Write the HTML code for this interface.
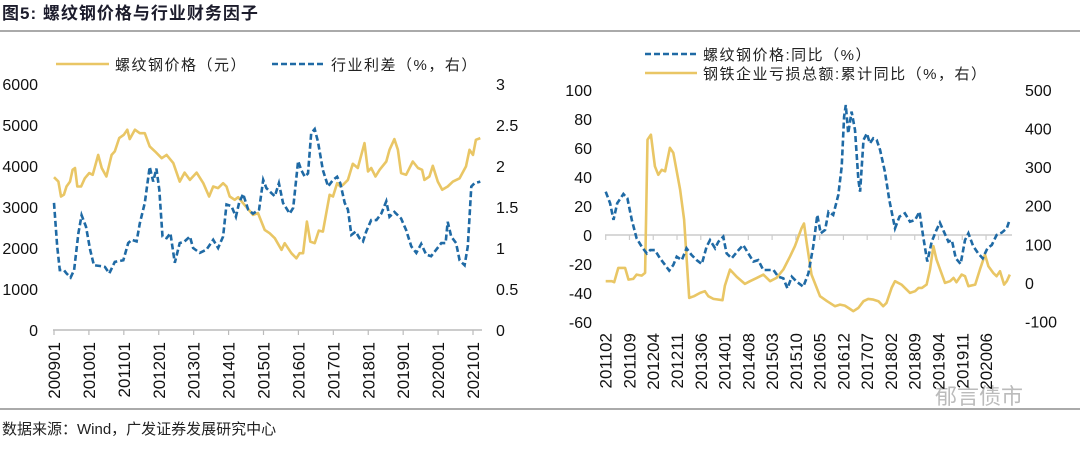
<!DOCTYPE html>
<html><head><meta charset="utf-8">
<style>
html,body{margin:0;padding:0;background:#fff;}
body{width:1080px;height:446px;overflow:hidden;font-family:"Liberation Sans","Noto Sans CJK SC",sans-serif;}
svg text{font-family:"Liberation Sans","Noto Sans CJK SC",sans-serif;}
</style></head>
<body>
<svg id="svg" width="1080" height="446" viewBox="0 0 1080 446">
<text x="2" y="19" font-size="17" font-weight="bold" fill="#1c1c2c" letter-spacing="1">图5:  螺纹钢价格与行业财务因子</text>
<line x1="0" y1="31" x2="1080" y2="31" stroke="#777" stroke-width="1.2"/>
<line x1="0" y1="409" x2="1080" y2="409" stroke="#777" stroke-width="1.2"/>
<text x="2" y="434" font-size="15" fill="#222">数据来源：Wind，广发证券发展研究中心</text>
<text x="935" y="404" font-size="22" fill="#bbb">郁言债市</text>
<g id="left"></g>
<g id="right"></g>
</svg>
<script>
// Left chart data (month index from 200901)
const lMonths=[0,1.5,2.4,3.4,4.3,5.5,6.4,7.2,8,9.3,10.6,12.1,13.3,15.2,16.4,18,19.8,20.9,22.4,24,25.2,26,27.8,29.5,31.2,32.9,34.7,37,38.7,41,43.2,44.9,46.7,49,51.3,53.3,54.7,56.4,58.1,59.3,60.4,62.1,63.3,65,68.4,70.1,72.4,74.1,75.9,78.2,79.3,81.6,83.3,84.4,85.6,86.9,88.1,89.6,91,92.4,94.7,95.9,97.3,98.4,99.3,101,102.7,104.4,105.6,106.7,107.9,109,110.5,111.9,114.2,115.3,117,118.2,119.3,121,123.3,125.1,126.5,127.3,129,130.2,131.9,133.4,135.3,137.1,139.4,141.6,142.8,144,145,146.5];
const rebarPrice=[3728,3620,3256,3300,3500,3620,3907,3950,3500,3500,3700,3826,3785,4270,3950,3745,4270,4355,4680,4760,4885,4655,4885,4800,4800,4477,4355,4190,4270,4070,3620,3840,3660,3840,3580,3256,3500,3460,3580,3500,3256,3175,3240,3093,2808,2850,2442,2360,2240,1954,2116,1872,1750,1872,1872,2645,2157,2116,2425,2400,3297,3256,3580,3500,3540,3660,4053,3950,4270,4558,3866,3950,3745,3907,4110,4395,4655,4395,3826,3785,4110,3950,3907,3660,3745,4005,3620,3420,3500,3620,3700,3990,4395,4270,4640,4680];
const spreadMonths=[0,1.1,2,3.4,4.3,5.7,6.9,8.4,9.5,11,12.4,13.7,15.8,17.5,19,20.9,23.8,25.5,26.7,28.4,29.5,31.2,32.9,34.1,35.2,36.2,37.3,38.7,40,41.5,43.2,44.9,46.7,47.8,50.1,52.4,54.7,56.4,58.1,59.3,61,62.5,63.6,65,66.7,68.4,70.5,71.9,73,74.7,75.9,77.3,78.7,81,82.2,83.9,85,86.2,87.3,88.4,89.6,90.7,92.4,94.2,95.9,97.3,98.4,99.9,101,102.2,103.7,105,106.2,107.3,109,110.8,112.5,114.2,115.3,117,119.3,121,122.8,124.5,126.2,127.9,129.6,131.4,133.1,134.6,135.3,136.5,138.2,139.4,141.1,142.2,143.4,144.5,146.5];
const spread=[1.55,1.02,0.73,0.73,0.69,0.64,0.73,1.18,1.40,1.26,0.98,0.79,0.78,0.77,0.69,0.83,0.85,1.06,1.10,1.08,1.30,1.55,1.99,1.81,1.97,1.71,1.14,1.12,1.18,0.82,1.06,1.08,1.14,1.00,0.94,0.98,1.10,1.00,1.14,1.53,1.51,1.38,1.55,1.66,1.47,1.42,1.47,1.83,1.73,1.67,1.63,1.79,1.55,1.42,1.49,2.06,1.95,1.87,1.91,2.40,2.45,2.30,1.95,1.75,1.83,1.87,1.79,1.55,1.47,1.16,1.20,1.12,1.08,1.20,1.34,1.34,1.42,1.57,1.38,1.44,1.36,1.22,1.02,0.94,1.05,0.92,0.90,0.98,1.06,1.06,1.32,1.14,1.06,0.85,0.79,1.02,1.75,1.79,1.81];
const lTicksL=[0,1000,2000,3000,4000,5000,6000];
const lTicksR=["0","0.5","1","1.5","2","2.5","3"];
const lXLabels=["200901","201001","201101","201201","201301","201401","201501","201601","201701","201801","201901","202001","202101"];
// Right chart data (month index from 201102)
const rMonthsB=[0,1.3,2.3,3.4,5.2,6.4,7.7,9.1,10.6,12.1,13.1,14.5,16,17.5,18.7,19.9,20.9,22.4,23.8,25.3,26.8,28.3,29.7,30.7,32.2,33.2,34.6,35.6,37.1,39.1,40.5,42,43.5,44.9,46.4,47.9,49.4,50.8,52.3,53.5,54.8,56.2,58.2,59.7,61.1,62.3,63.3,64.6,65.6,67,68.5,69.5,70.2,70.7,71.4,72.4,73.4,74.4,74.9,75.9,76.9,77.8,78.8,79.8,80.8,82.2,83.5,85.2,86.5,88.1,89.6,91.1,92.4,93.5,94.7,96,97.4,98.4,99.6,100.9,101.9,103.1,104.5,105.8,106.8,108.2,109.7,111,112.4,113.7,115.1,116.6,118.1,119];
const rebarYoY=[29.9,21.9,10.4,21.9,28.3,25.3,10.4,-2.3,-8.1,-12.7,-10.4,-10.4,-16.1,-20.7,-24.6,-20.7,-15,-17.3,-9.2,-13.8,-17.3,-20,-8.1,-3.5,-9.2,-4.6,-1.2,-12.7,-16.1,-10.4,-6.9,-12.7,-18.4,-17.3,-24.2,-24.2,-24.2,-28.8,-29.9,-36.8,-28.8,-32.2,-35.7,-26.5,-8.1,13.8,1.2,3.5,16.1,13.8,27.6,47.2,81.7,89.8,70.2,85.2,72.5,38,29.9,65.6,70.2,63.3,66.8,65.6,58.7,43.7,24.2,4.6,12.7,15,9.2,10.4,16.1,-1.2,-18.4,-4.6,3.5,8.5,2.3,-4.6,-3.5,-16.1,-20,-3.5,1.2,-7.6,-12.7,-16.1,-9.2,-6.9,0,1.6,4.6,10.8];
const rMonthsY=[0,1.8,2.5,3.7,5.2,5.7,6.7,8.1,9.1,10.6,11.6,12.3,13.3,14.5,15.5,16.5,17.5,18.9,19.9,21.9,23.1,24.6,26,27.8,29.2,30.2,31.7,34.4,35.1,36.6,38.6,41,42.5,44.5,46.4,48.4,50.3,52.3,54.3,55.7,57.7,58.4,59.2,60.6,63.1,65.2,67.5,69,70.4,71.9,72.9,74.4,75.9,77.3,78.8,80.3,81.7,82.7,84.2,85.2,87.1,89.6,91.1,92.1,93.1,94.5,95.5,96.5,97.4,99.9,101.4,102.4,103.3,104.8,105.8,106.8,108.8,110.2,111.7,112.7,114.1,115.1,116.1,117.3,118.1,119];
const lossYoY=[4.3,4.3,1.7,38.8,38.8,38.8,8.6,10.4,21.6,19,25.9,371,384,302,280,293,289,350,337,242,164,-38.8,-34.5,-25.9,-21.6,-34.5,-41.4,-44.9,-6.9,34.5,15.5,-2.6,4.3,12.9,21.6,4.3,12.9,34.5,69,95,142,154,103.6,21.6,-34.5,-47.5,-60.4,-56.1,-58.7,-67.3,-73.4,-64.7,-47.5,-41.4,-43.2,-47.5,-60.4,-51.8,-12.9,4.3,-4.3,-25.9,-21.6,-12.9,-12.9,-4.3,34.5,95,60.4,0,4.3,12.9,1.7,21.6,17.3,-8.6,-4.3,34.5,73.4,43.2,25.9,17.3,30.2,-4.3,4.3,21.6];
const rTicksL=[-60,-40,-20,0,20,40,60,80,100];
const rTicksR=[-100,0,100,200,300,400,500];
const rXLabels=["201102","201109","201204","201211","201306","201401","201408","201503","201510","201605","201612","201707","201802","201809","201904","201911","202006"];

const NS="http://www.w3.org/2000/svg";
function mk(parent,tag,attrs,txt){const e=document.createElementNS(NS,tag);for(const k in attrs)e.setAttribute(k,attrs[k]);if(txt!==undefined)e.textContent=txt;parent.appendChild(e);return e;}
function pathD(xs,ys,fx,fy){return xs.map((m,i)=>(i?'L':'M')+fx(m).toFixed(1)+','+fy(ys[i]).toFixed(1)).join('');}
const YEL="#e9c665",BLU="#1f6aa5";

// LEFT
const L=document.getElementById('left');
const lx=m=>54+m*(419/144);
const lyL=v=>330-v*(246/6000);
const lyR=v=>330-v*(246/3);
let ax=mk(L,'line',{x1:53,y1:330,x2:482,y2:330,stroke:'#bbb','stroke-width':1.5});

lTicksL.forEach(v=>{const t=mk(L,'text',{x:38,y:lyL(v)+6,'font-size':16,'text-anchor':'end',fill:'#111'},String(v));
});
lTicksR.forEach((s,i)=>{const t=mk(L,'text',{x:496,y:lyR(i*0.5)+6,'font-size':16,fill:'#111'},s);
});
lXLabels.forEach((s,i)=>{const x=lx(i*12);const tk=mk(L,'line',{x1:x,y1:330,x2:x,y2:335,stroke:'#bbb','stroke-width':1.2});

const t=mk(L,'text',{x:0,y:0,'font-size':17,'text-anchor':'end',fill:'#111',transform:`translate(${x+6},342) rotate(-90)`},s);
});
let p1=mk(L,'path',{d:pathD(lMonths,rebarPrice,lx,lyL),fill:'none',stroke:YEL,'stroke-width':2.6,'stroke-linejoin':'round'});

let p2=mk(L,'path',{d:pathD(spreadMonths,spread,lx,lyR),fill:'none',stroke:BLU,'stroke-width':2.6,'stroke-dasharray':'6,3'});

let g1=mk(L,'g',{});
mk(g1,'line',{x1:56,y1:64,x2:109,y2:64,stroke:YEL,'stroke-width':2.6});
mk(g1,'text',{x:115,y:70,'font-size':15,fill:'#222','letter-spacing':1.5},'螺纹钢价格（元）');
let g2=mk(L,'g',{});
mk(g2,'line',{x1:272,y1:64,x2:325,y2:64,stroke:BLU,'stroke-width':2.6,'stroke-dasharray':'6,3'});
mk(g2,'text',{x:331,y:70,'font-size':15,fill:'#222','letter-spacing':1.5},'行业利差（%，右）');

// RIGHT
const R=document.getElementById('right');
const rx=m=>605.7+m*3.396;
const ryL=v=>235-v*(28.96/20);
const ryR=v=>282.9-v*(38.6/100);
let ax2=mk(R,'line',{x1:605,y1:235,x2:1012,y2:235,stroke:'#ccc','stroke-width':1.5});

rTicksL.forEach(v=>{const t=mk(R,'text',{x:592,y:ryL(v)+6,'font-size':16,'text-anchor':'end',fill:'#111'},String(v));
});
rTicksR.forEach(v=>{const t=mk(R,'text',{x:1025,y:ryR(v)+6,'font-size':16,fill:'#111'},String(v));
});
rXLabels.forEach((s,i)=>{const x=rx(i*7);const tk=mk(R,'line',{x1:x,y1:235,x2:x,y2:240,stroke:'#ccc','stroke-width':1.2});

const t=mk(R,'text',{x:0,y:0,'font-size':17,'text-anchor':'end',fill:'#111',transform:`translate(${x+6},333) rotate(-90)`},s);
});
let p3=mk(R,'path',{d:pathD(rMonthsY,lossYoY,rx,ryR),fill:'none',stroke:YEL,'stroke-width':2.6,'stroke-linejoin':'round'});

let p4=mk(R,'path',{d:pathD(rMonthsB,rebarYoY,rx,ryL),fill:'none',stroke:BLU,'stroke-width':2.6,'stroke-dasharray':'6,3'});

let g3=mk(R,'g',{});
mk(g3,'line',{x1:645,y1:54,x2:697,y2:54,stroke:BLU,'stroke-width':2.6,'stroke-dasharray':'6,3'});
mk(g3,'text',{x:703,y:60,'font-size':15,fill:'#222','letter-spacing':1.5},'螺纹钢价格:同比（%）');
let g4=mk(R,'g',{});
mk(g4,'line',{x1:645,y1:73,x2:697,y2:73,stroke:YEL,'stroke-width':2.6});
mk(g4,'text',{x:703,y:79,'font-size':15,fill:'#222','letter-spacing':1.5},'钢铁企业亏损总额:累计同比（%，右）');
</script>
</body></html>
